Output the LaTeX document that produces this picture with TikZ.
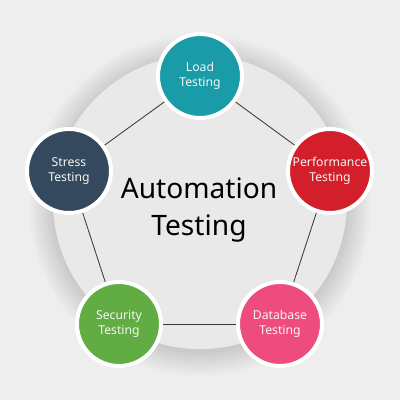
\documentclass[tikz,border=0pt]{standalone}
\usepackage{fontspec}
\setmainfont{Noto Sans}
\usetikzlibrary{shadows}

\definecolor{bggray}{rgb}{0.935 0.935 0.935}
\definecolor{discgray}{rgb}{0.912 0.912 0.912}
\definecolor{loadcol}{HTML}{1A9CA8}
\definecolor{perfcol}{HTML}{D21F2B}
\definecolor{stresscol}{HTML}{34495D}
\definecolor{securcol}{HTML}{62AC44}
\definecolor{dbcol}{HTML}{EE4C7E}
\definecolor{linecol}{HTML}{3A3A3A}

\tikzset{
  topic/.style={circle, draw=white, line width=0.1cm, minimum size=2.1cm,
    inner sep=0pt, align=center, text=white!92!gray,
    font=\fontsize{8.7}{10.7}\selectfont,
    drop shadow={opacity=0.14, shadow xshift=0.4pt, shadow yshift=-1.4pt}},
  link/.style={draw=linecol, line width=0.6pt},
  headline/.style={align=center, text=black,
    font=\fontsize{20}{26.8}\selectfont}
}

\begin{document}
\begin{tikzpicture}[x=0.025cm,y=0.025cm]
\useasboundingbox (0,0) rectangle (400,400);
\fill[bggray] (0,0) rectangle (400,400);
% big disc with soft halo
\coordinate (disc) at (200,198);
\coordinate (halo) at (200,195);
\foreach \r in {3.70,3.77,...,4.30}
  \fill[black,opacity=0.017] (halo) circle (\r cm);
\fill[discgray] (disc) circle (3.675cm);

\node[headline] (title) at (199,190) {Automation\\Testing};

\node[topic, fill=loadcol] (load) at (200,324) {Load\\Testing};
\node[topic, fill=perfcol] (perf) at (330,229) {Performance\\Testing};
\node[topic, fill=dbcol] (db) at (280,76) {Database\\Testing};
\node[topic, fill=securcol] (secur) at (119,76) {Security\\Testing};
\node[topic, fill=stresscol] (stress) at (69,229) {Stress\\Testing};

\draw[link] (load) -- (perf);
\draw[link] (perf) -- (db);
\draw[link] (db) -- (secur);
\draw[link] (secur) -- (stress);
\draw[link] (stress) -- (load);
\end{tikzpicture}
\end{document}
